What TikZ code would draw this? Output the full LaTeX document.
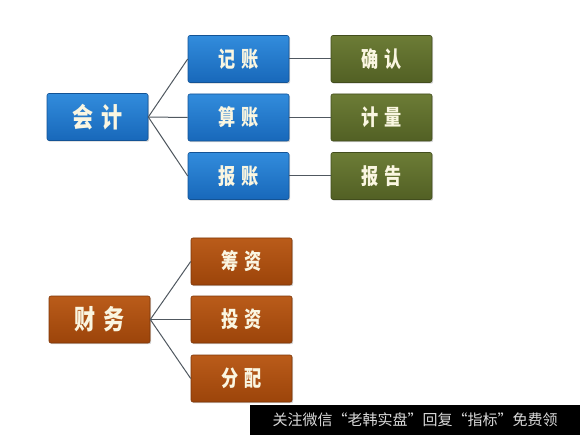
\documentclass[tikz,border=0pt]{standalone}
\usepackage{fontspec}
\usepackage{xcolor}
\usepackage{tikz}
\usetikzlibrary{shadows}
\newfontfamily\cjk{Noto Sans CJK SC}
\newfontfamily\cjknarrow[FakeStretch=0.78]{Noto Sans CJK SC}
\definecolor{accblue}{RGB}{24,104,186}
\definecolor{accbluetop}{RGB}{50,140,220}
\definecolor{accgreen}{RGB}{82,96,36}
\definecolor{accgreentop}{RGB}{108,124,54}
\definecolor{finbrown}{RGB}{156,68,10}
\definecolor{finbrowntop}{RGB}{186,92,26}
\definecolor{linkgray}{RGB}{80,88,96}
\definecolor{txtcream}{RGB}{250,246,225}
\tikzset{
  box/.style={rectangle, minimum width=101pt, minimum height=47pt,
    inner sep=0pt, rounded corners=2pt, text=txtcream,
    font=\cjknarrow\bfseries\fontsize{22}{22}\selectfont,
    drop shadow={shadow xshift=1.2pt, shadow yshift=-1.2pt, opacity=0.35}},
  bluebox/.style={box, top color=accbluetop, bottom color=accblue, draw=accblue!80!black, line width=0.6pt},
  greenbox/.style={box, top color=accgreentop, bottom color=accgreen, draw=accgreen!80!black, line width=0.6pt},
  brownbox/.style={box, top color=finbrowntop, bottom color=finbrown, draw=finbrown!80!black, line width=0.6pt},
  bigtext/.style={font=\cjknarrow\bfseries\fontsize{27}{27}\selectfont},
  link/.style={draw=linkgray, line width=1pt}
}
\newcommand{\gapch}{\hspace{0.3em}}

\begin{document}
\begin{tikzpicture}[x=1pt, y=-1pt]
  \useasboundingbox (0,0) rectangle (580,435);

  % Accounting tree
  \node[bluebox, bigtext] (acct) at (97.5,117) {会\gapch 计};
  \node[bluebox] (record) at (238.5,59) {记\gapch 账};
  \node[bluebox] (compute) at (238.5,117.5) {算\gapch 账};
  \node[bluebox] (report) at (238.5,176) {报\gapch 账};
  \node[greenbox] (confirm) at (381.5,59) {确\gapch 认};
  \node[greenbox] (measure) at (381.5,117.5) {计\gapch 量};
  \node[greenbox] (publish) at (381.5,176) {报\gapch 告};

  \draw[link] (acct.east) -- (record.west);
  \draw[link] (acct.east) -- (compute.west);
  \draw[link] (acct.east) -- (report.west);
  \draw[link] (record) -- (confirm);
  \draw[link] (compute) -- (measure);
  \draw[link] (report) -- (publish);

  % Finance tree
  \node[brownbox, bigtext] (fin) at (99.5,319.5) {财\gapch 务};
  \node[brownbox] (raise) at (241.5,261.5) {筹\gapch 资};
  \node[brownbox] (invest) at (241.5,319.5) {投\gapch 资};
  \node[brownbox] (alloc) at (241.5,378.5) {分\gapch 配};

  \draw[link] (fin.east) -- (raise.west);
  \draw[link] (fin.east) -- (invest.west);
  \draw[link] (fin.east) -- (alloc.west);

  % Watermark bar
  \fill[black] (250,405) rectangle (580,435);
  \node[text=white!85!black, font=\cjk\fontsize{15}{15}\selectfont, anchor=center] (mark) at (415,420) {关注微信“老韩实盘”回复“指标”免费领};
\end{tikzpicture}
\end{document}
